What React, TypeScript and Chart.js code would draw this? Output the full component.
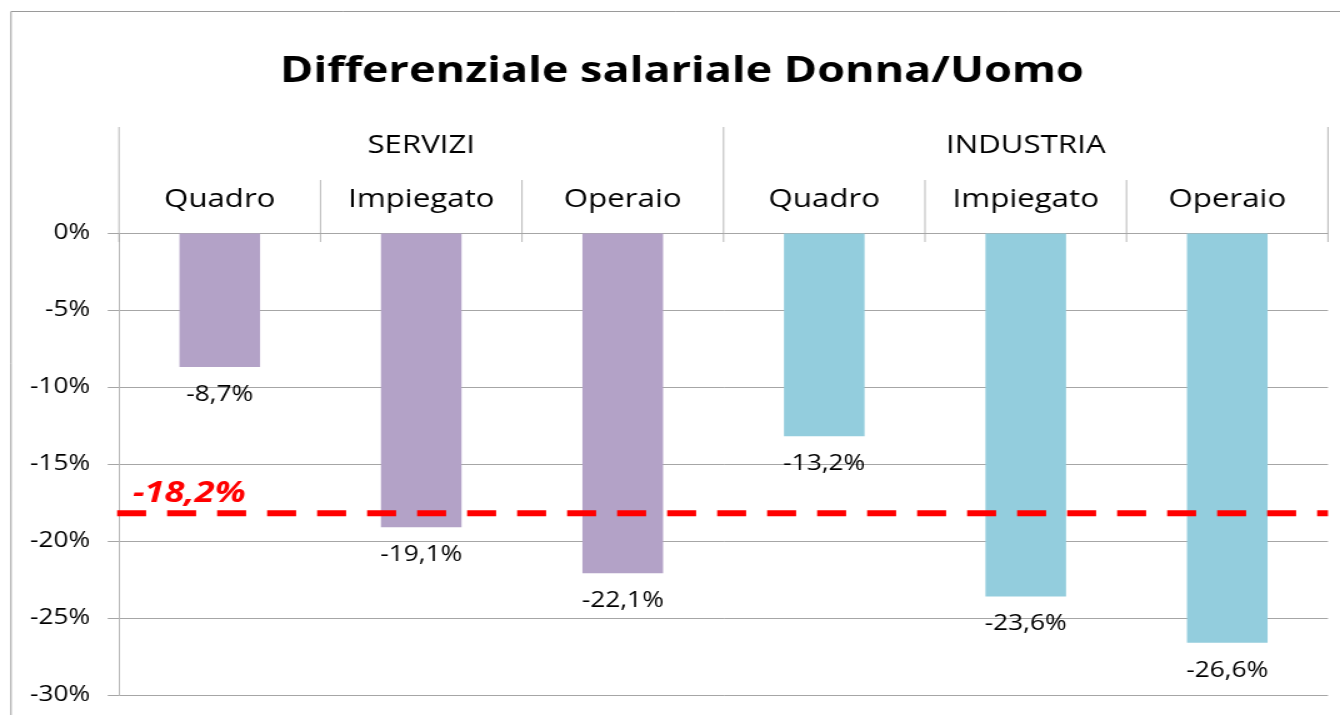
import React, { useEffect, useRef } from 'react';
import { Chart, registerables } from 'chart.js';

Chart.register(...registerables);

// ---- data ----
const TITLE = 'Differenziale salariale Donna/Uomo';
const categories = ['Quadro', 'Impiegato', 'Operaio', 'Quadro', 'Impiegato', 'Operaio'];
const groups = ['SERVIZI', 'INDUSTRIA'];
const groupOf = [0, 0, 0, 1, 1, 1];
const values = [-8.7, -19.1, -22.1, -13.2, -23.6, -26.6];
const average = -18.2;
const yMin = -30;
const yMax = 0;
const yStep = 5;

// ---- styles ----
const groupColors = ['#B3A2C7', '#93CDDD'];
const FONT = 'Open Sans';
const LINE = '#a6a6a6';

const fmt = (v: number) => v.toFixed(1).replace('.', ',') + '%';

const overlay = {
  id: 'overlay',
  beforeDraw(chart: any) {
    const ctx = chart.ctx;
    ctx.save();
    ctx.strokeStyle = '#9a9a9a';
    ctx.lineWidth = 1;
    ctx.beginPath();
    ctx.moveTo(8.8, chart.height + 10);
    ctx.lineTo(8.8, 11.5);
    ctx.lineTo(chart.width + 10, 11.5);
    ctx.stroke();
    // title
    ctx.fillStyle = '#000';
    ctx.textAlign = 'center';
    ctx.textBaseline = 'middle';
    ctx.font = `bold 36px "${FONT}"`;
    ctx.fillText(TITLE, 545.6, 72);
    ctx.restore();
  },
  afterDatasetsDraw(chart: any) {
    const ctx = chart.ctx;
    const x = chart.scales.x;
    const y = chart.scales.y;
    const area = chart.chartArea;
    const top = area.top;
    const px = (i: number) => x.getPixelForValue(i);
    const half = (px(1) - px(0)) / 2;

    ctx.save();
    // separators
    ctx.strokeStyle = LINE;
    ctx.lineWidth = 0.8;
    for (let k = 0; k <= categories.length; k++) {
      const bx = k < categories.length ? px(k) - half : px(categories.length - 1) + half;
      const isGroupEdge = k === 0 || k === categories.length || groupOf[k] !== groupOf[k - 1];
      ctx.beginPath();
      ctx.moveTo(bx, isGroupEdge ? top - 106 : top - 53);
      ctx.lineTo(bx, top + 9);
      ctx.stroke();
    }

    // category labels
    ctx.fillStyle = '#000';
    ctx.textAlign = 'center';
    ctx.textBaseline = 'middle';
    ctx.font = `25px "${FONT}"`;
    categories.forEach((c, i) => ctx.fillText(c, px(i), top - 33));

    // group labels
    groups.forEach((g, gi) => {
      const idx = groupOf.map((v, i) => (v === gi ? i : -1)).filter((i) => i >= 0);
      const cx = (px(idx[0]) + px(idx[idx.length - 1])) / 2;
      ctx.fillText(g, cx, top - 87);
    });

    // data labels
    ctx.font = `21px "${FONT}"`;
    values.forEach((v, i) => ctx.fillText(fmt(v), px(i), y.getPixelForValue(v) + 28));

    // average line
    const ay = y.getPixelForValue(average);
    ctx.strokeStyle = '#ff0000';
    ctx.lineWidth = 6;
    ctx.setLineDash([23.2, 16.8]);
    ctx.beginPath();
    ctx.moveTo(area.left - 1.5, ay);
    ctx.lineTo(area.right, ay);
    ctx.stroke();
    ctx.setLineDash([]);

    ctx.fillStyle = '#ff0000';
    ctx.textAlign = 'left';
    ctx.font = `italic bold 29px "${FONT}"`;
    ctx.fillText(fmt(average), area.left + 11, ay - 20);
    ctx.restore();
  },
};

export default function App() {
  const ref = useRef<HTMLCanvasElement>(null);
  useEffect(() => {
    const canvas = ref.current!;
    const chart = new Chart(canvas, {
      type: 'bar',
      data: {
        labels: categories,
        datasets: [
          {
            label: TITLE,
            data: values,
            backgroundColor: values.map((_, i) => groupColors[groupOf[i]]),
            barPercentage: 0.4,
            categoryPercentage: 1,
          },
        ],
      },
      options: {
        responsive: false,
        animation: false,
        devicePixelRatio: 1,
        layout: { padding: { left: 0, right: 9.6, top: 233, bottom: 20 } },
        plugins: {
          legend: { display: false },
          tooltip: { enabled: false },
          title: { display: false },
        },
        scales: {
          x: { display: false, offset: true },
          y: {
            min: yMin,
            max: yMax,
            afterFit: (s: any) => {
              s.width = 95.2;
              s.paddingTop = 0;
              s.paddingBottom = 0;
            },
            ticks: {
              stepSize: yStep,
              padding: 14,
              color: '#000',
              font: { family: FONT, size: 21 },
              callback: (v: any) => v + '%',
            },
            grid: { color: LINE, tickLength: 9, lineWidth: 1 },
            border: { display: true, color: LINE, width: 0.8 },
          },
        },
      },
      plugins: [overlay],
    } as any);
    return () => chart.destroy();
  }, []);

  return (
    <div
      style={{
        position: 'fixed',
        left: 0,
        top: 0,
        width: 1340,
        height: 715,
        overflow: 'hidden',
        background: '#fff',
      }}
    >
      <div style={{ width: 1072, height: 715, transform: 'scaleX(1.25)', transformOrigin: '0 0' }}>
        <canvas ref={ref} width={1072} height={715} />
      </div>
    </div>
  );
}
